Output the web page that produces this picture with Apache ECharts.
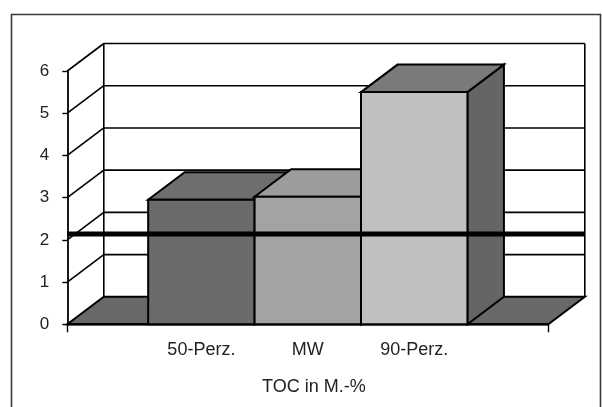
<!DOCTYPE html>
<html>
<head>
<meta charset="utf-8">
<script src="https://cdn.jsdelivr.net/npm/echarts@6/dist/echarts.min.js"></script>
<style>
  html, body { margin: 0; padding: 0; background: #fff; }
  #chart { width: 602px; height: 407px; }
</style>
</head>
<body>
<div id="chart"></div>
<script>
// ---- data ----
const categories = ['50-Perz.', 'MW', '90-Perz.'];
const values = [2.95, 3.02, 5.5];
const refValue = 2.14;
const yMin = 0;
const yMax = 6;
const yInterval = 1;
const xTitle = 'TOC in M.-%';

// ---- style / layout ----
const X_MIN = -1.26, X_MAX = 3.26;
const DX = 36.5, DY = -27.5;           // 3D depth offset in pixels
const FONT = '"Liberation Sans", Arial, sans-serif';
const frontColors = ['#6b6b6b', '#a3a3a3', '#c0c0c0'];
const topColors = ['#6e6e6e', '#9c9c9c', '#7a7a7a'];
const sideColors = ['#626262', '#8a8a8a', '#656565'];

const chart = echarts.init(document.getElementById('chart'), null, { renderer: 'canvas' });

function off(p) { return [p[0] + DX, p[1] + DY]; }

function renderWalls(params, api) {
  const children = [];
  const fl = api.coord([X_MIN, yMin]);
  const fr = api.coord([X_MAX, yMin]);
  // floor
  children.push({
    type: 'polygon',
    shape: { points: [fl, fr, off(fr), off(fl)] },
    style: { fill: '#686868', stroke: '#000', lineWidth: 2, lineJoin: 'miter' }
  });
  // back wall verticals
  [X_MIN, X_MAX].forEach(function (x) {
    const a = off(api.coord([x, yMin]));
    const b = off(api.coord([x, yMax]));
    children.push({ type: 'line', shape: { x1: a[0], y1: a[1], x2: b[0], y2: b[1] },
      style: { stroke: '#000', lineWidth: 1.6 } });
  });
  // gridlines on back wall and side wall diagonals
  for (let v = yMin + yInterval; v <= yMax + 1e-9; v += yInterval) {
    const a = api.coord([X_MIN, v]);
    const b = api.coord([X_MAX, v]);
    const ab = off(a), bb = off(b);
    children.push({ type: 'line', shape: { x1: ab[0], y1: ab[1], x2: bb[0], y2: bb[1] },
      style: { stroke: '#000', lineWidth: 1.6 } });
    children.push({ type: 'line', shape: { x1: a[0], y1: a[1], x2: ab[0], y2: ab[1] },
      style: { stroke: '#000', lineWidth: 1.6 } });
  }
  // front floor edge
  children.push({ type: 'line', shape: { x1: fl[0], y1: fl[1], x2: fr[0], y2: fr[1] },
    style: { stroke: '#000', lineWidth: 2.6 } });
  return { type: 'group', children: children };
}

function renderBar(params, api) {
  const i = api.value(0);
  const v = api.value(1);
  const tl = api.coord([i - 0.5, v]);
  const tr = api.coord([i + 0.5, v]);
  const bl = api.coord([i - 0.5, yMin]);
  const br = api.coord([i + 0.5, yMin]);
  const st = { stroke: '#000', lineWidth: 2, lineJoin: 'miter' };
  const idx = params.dataIndex;
  return {
    type: 'group',
    children: [
      { type: 'polygon', shape: { points: [tr, off(tr), off(br), br] },
        style: Object.assign({ fill: sideColors[idx] }, st) },
      { type: 'polygon', shape: { points: [tl, tr, off(tr), off(tl)] },
        style: Object.assign({ fill: topColors[idx] }, st) },
      { type: 'polygon', shape: { points: [tl, tr, br, bl] },
        style: Object.assign({ fill: frontColors[idx] }, st) }
    ]
  };
}

function renderRef(params, api) {
  const a = api.coord([X_MIN, api.value(1)]);
  const b = api.coord([X_MAX, api.value(1)]);
  return { type: 'line', shape: { x1: a[0], y1: a[1], x2: b[0] + DX, y2: b[1] },
    style: { stroke: '#000', lineWidth: 5 } };
}

function renderLabels(params, api) {
  const children = [];
  categories.forEach(function (c, i) {
    const p = api.coord([i, yMin]);
    children.push({ type: 'text', x: p[0], y: p[1] + 26,
      style: { text: c, fill: '#222', font: '18px ' + FONT, align: 'center', verticalAlign: 'middle' } });
  });
  const m = api.coord([(X_MIN + X_MAX) / 2, yMin]);
  children.push({ type: 'text', x: m[0] + 6, y: m[1] + 63,
    style: { text: xTitle, fill: '#222', font: '18px ' + FONT, align: 'center', verticalAlign: 'middle' } });
  return { type: 'group', children: children };
}

const option = {
  animation: false,
  backgroundColor: '#fff',
  graphic: [{
    type: 'rect', left: 9, top: 12, z: -10,
    shape: { width: 589, height: 430 },
    style: { fill: 'none', stroke: '#3a3a3a', lineWidth: 1.6 }
  }],
  grid: { left: 67.3, right: 53.7, top: 71, bottom: 82.7, containLabel: false },
  xAxis: {
    type: 'value', min: X_MIN, max: X_MAX, interval: X_MAX - X_MIN,
    axisLine: { show: false, onZero: false },
    axisTick: { show: true, length: 8, lineStyle: { color: '#000', width: 1.4 } },
    axisLabel: { show: false },
    splitLine: { show: false }
  },
  yAxis: {
    type: 'value', min: yMin, max: yMax, interval: yInterval,
    axisLine: { show: true, onZero: false, lineStyle: { color: '#000', width: 1.8 } },
    axisTick: { show: true, length: 5, lineStyle: { color: '#000', width: 1.4 } },
    axisLabel: { margin: 18, fontSize: 17, color: '#222', fontFamily: FONT },
    splitLine: { show: false }
  },
  series: [
    { type: 'custom', clip: false, z: 1, silent: true, renderItem: renderWalls, data: [[0, 0]] },
    { type: 'custom', clip: false, z: 2, silent: true, renderItem: renderBar,
      data: values.map(function (v, i) { return [i, v]; }) },
    { type: 'custom', clip: false, z: 3, silent: true, renderItem: renderRef, data: [[0, refValue]] },
    { type: 'custom', clip: false, z: 4, silent: true, renderItem: renderLabels, data: [[0, 0]] }
  ]
};
chart.setOption(option);
</script>
</body>
</html>
